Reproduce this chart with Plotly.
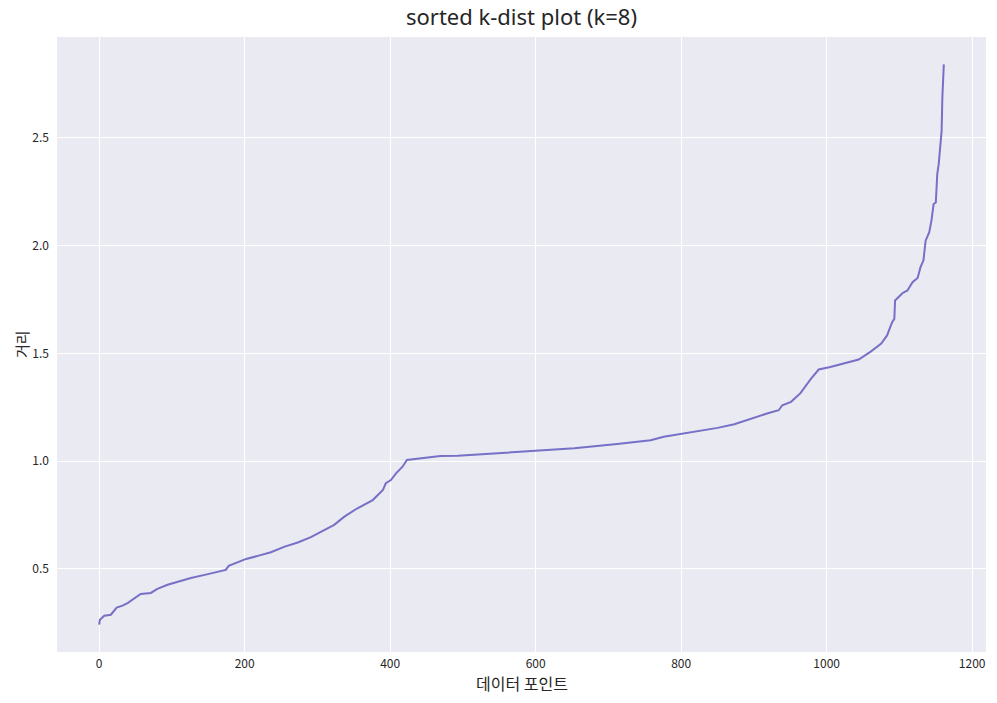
import plotly.graph_objects as go

# Sorted k-distance values (index, distance)
point_index = [0, 1, 7, 16, 24, 32, 39, 48, 57, 71, 80, 94, 108, 126, 145, 163, 174, 178,
               190, 202, 218, 236, 255, 273, 291, 305, 323, 337, 355, 376, 390, 394, 401,
               408, 417, 423, 447, 469, 493, 529, 598, 653, 712, 758, 776, 804, 850, 873,
               896, 918, 934, 939, 951, 964, 978, 985, 989, 1005, 1024, 1044, 1061, 1075,
               1083, 1090, 1093, 1094, 1104, 1111, 1118, 1125, 1129, 1133, 1136, 1141,
               1144, 1147, 1150, 1152, 1154, 1157, 1158, 1159, 1160, 1161]
k_dist = [0.241, 0.264, 0.282, 0.287, 0.320, 0.329, 0.341, 0.364, 0.383, 0.388, 0.407, 0.426,
          0.441, 0.457, 0.472, 0.485, 0.495, 0.514, 0.529, 0.546, 0.560, 0.577, 0.603, 0.622,
          0.647, 0.673, 0.704, 0.742, 0.781, 0.819, 0.866, 0.897, 0.912, 0.943, 0.974, 1.005,
          1.013, 1.023, 1.025, 1.032, 1.046, 1.059, 1.079, 1.097, 1.113, 1.128, 1.154, 1.171,
          1.198, 1.221, 1.236, 1.259, 1.275, 1.315, 1.380, 1.406, 1.425, 1.437, 1.455, 1.471,
          1.509, 1.545, 1.583, 1.645, 1.660, 1.745, 1.779, 1.792, 1.830, 1.850, 1.900, 1.931,
          2.023, 2.062, 2.116, 2.193, 2.200, 2.332, 2.378, 2.517, 2.532, 2.686, 2.749, 2.841]

x_ticks = [0, 200, 400, 600, 800, 1000, 1200]
y_ticks = [0.5, 1.0, 1.5, 2.0, 2.5]

title_text = "sorted k-dist plot (k=8)"
x_label = "데이터 포인트"
y_label = "거리"

FONT = "Noto Sans CJK KR, Noto Sans, DejaVu Sans, sans-serif"
LATIN = "Noto Sans, DejaVu Sans, sans-serif"
TXT = "#262626"

# page body has an 8px margin, so the figure is 16px smaller than the window
W, H = 981, 687
L, R, T, B = 49, 3, 29, 43
plot_w = W - L - R
plot_h = H - T - B

fig = go.Figure()
fig.add_trace(go.Scatter(
    x=point_index, y=k_dist, mode="lines",
    line=dict(color="#7670C6", width=2),
    showlegend=False, hoverinfo="x+y",
))

fig.update_layout(
    width=W, height=H,
    margin=dict(l=L, r=R, t=T, b=B, autoexpand=False),
    paper_bgcolor="#FFFFFF",
    plot_bgcolor="#EAEAF2",
    font=dict(family=FONT, color=TXT),
    title=dict(text=title_text, x=(L + plot_w / 2) / W, xanchor="center",
               y=1 - 2 / H, yanchor="top", pad=dict(t=0, b=0),
               font=dict(size=22, color=TXT, family=LATIN), automargin=False),
    annotations=[
        dict(text=x_label, xref="paper", yref="paper", x=0.5, y=0,
             xanchor="center", yanchor="middle", yshift=-31, showarrow=False,
             font=dict(size=16, color=TXT, family=FONT)),
        dict(text=y_label, xref="paper", yref="paper", x=-(L - 1) / plot_w, y=0.5,
             xanchor="left", yanchor="middle", textangle=-90, showarrow=False,
             font=dict(size=15, color=TXT, family=FONT)),
    ],
)
fig.update_xaxes(
    range=[-58, 1219], tickvals=x_ticks, ticktext=[str(t) for t in x_ticks],
    showgrid=True, gridcolor="#FFFFFF", gridwidth=1.2, zeroline=False,
    showline=False, ticks="", tickfont=dict(size=12, color=TXT), automargin=False,
    ticklabelstandoff=3,
)
fig.update_yaxes(
    range=[0.114, 2.968], tickvals=y_ticks, ticktext=[f"{t:.1f}" for t in y_ticks],
    showgrid=True, gridcolor="#FFFFFF", gridwidth=1.2, zeroline=False,
    showline=False, ticks="", tickfont=dict(size=12, color=TXT), automargin=False,
    ticklabelstandoff=7,
)

fig.write_html("out.html")
